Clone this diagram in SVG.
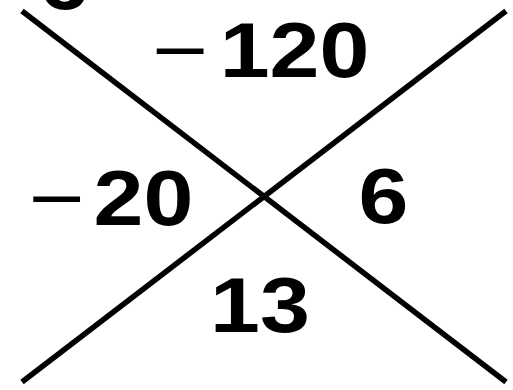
<svg xmlns="http://www.w3.org/2000/svg" width="513" height="390" viewBox="0 0 513 390">
<style>
.n{font-family:"Liberation Sans",Arial,sans-serif;font-weight:bold;font-size:78px;fill:#000;text-anchor:middle}
.m{font-family:"Liberation Sans",Arial,sans-serif;font-weight:normal;font-size:77px;fill:#000;text-anchor:middle}
.ln{stroke:#000;stroke-width:5.5;fill:none}
</style>
<rect width="513" height="390" fill="#fff"/>
<g id="connectors">
<line class="ln" x1="22" y1="11" x2="506" y2="382"/>
<line class="ln" x1="22" y1="382" x2="506" y2="11"/>
</g>
<g id="corner"><text class="n" transform="translate(64,9) scale(1.15,1)">6</text></g>
<g id="top">
<text class="m" transform="translate(180,77) scale(1.25,1)">−</text>
<text class="n" transform="translate(294.5,77) scale(1.15,1)">120</text>
</g>
<g id="left">
<text class="m" transform="translate(56.5,225) scale(1.25,1)">−</text>
<text class="n" transform="translate(143.5,225) scale(1.15,1)">20</text>
</g>
<g id="right"><text class="n" transform="translate(383.5,223) scale(1.15,1)">6</text></g>
<g id="bottom"><text class="n" transform="translate(260,332) scale(1.15,1)">13</text></g>
</svg>
